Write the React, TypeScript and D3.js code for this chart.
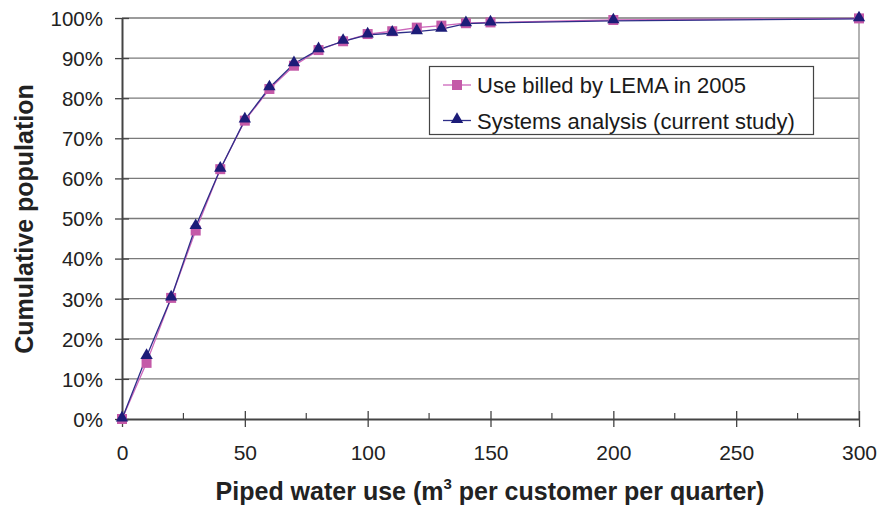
import React, { useEffect, useRef } from "react";
import * as d3 from "d3";

const usage = [0, 10, 20, 30, 40, 50, 60, 70, 80, 90, 100, 110, 120, 130, 140, 150, 200, 300];
const billed = [0, 14, 30.2, 47, 62.3, 74.4, 82.3, 88.1, 92, 94.2, 96, 96.7, 97.6, 98.1, 98.7, 98.9, 99.5, 99.9];
const systems = [0, 15.6, 30.2, 48, 62.3, 74.6, 82.6, 88.6, 92.1, 94.2, 95.8, 96.2, 96.6, 97.2, 98.6, 98.8, 99.3, 99.8];
const xTicks = [0, 50, 100, 150, 200, 250, 300];
const xMinor = [25, 75, 125, 175, 225, 275];
const yTicks = [0, 10, 20, 30, 40, 50, 60, 70, 80, 90, 100];
const seriesNames = ["Use billed by LEMA in 2005", "Systems analysis (current study)"];

const W = 880;
const H = 508;
const left = 122;
const right = 859;
const top = 18;
const bottom = 419;
const font = "'Liberation Sans', Arial, sans-serif";
const pink = "#c45aa8";
const pinkLine = "#cc66bb";
const navy = "#1c1c78";
const navyLine = "#2e2e88";

const App: React.FC = () => {
    const svgRef = useRef<SVGSVGElement>(null);

    useEffect(() => {
        if (!svgRef.current) return;
        const svg = d3.select(svgRef.current);
        svg.selectAll("*").remove();

        const x = d3.scaleLinear().domain([0, 300]).range([left, right]);
        const y = d3.scaleLinear().domain([0, 100]).range([bottom, top]);

        // gridlines
        svg.append("g")
            .selectAll("line")
            .data(yTicks.filter((d) => d > 0))
            .join("line")
            .attr("x1", left)
            .attr("x2", right)
            .attr("y1", (d) => y(d))
            .attr("y2", (d) => y(d))
            .attr("stroke", "#7a7a7a")
            .attr("stroke-width", 1.3);

        // right border
        svg.append("line")
            .attr("x1", right).attr("x2", right)
            .attr("y1", top).attr("y2", bottom)
            .attr("stroke", "#8a8a8a").attr("stroke-width", 1.3);

        // y axis
        const yAxis = svg.append("g")
            .attr("transform", `translate(${left},0)`)
            .call(d3.axisLeft(y).tickValues(yTicks).tickFormat((d) => `${d}%`).tickSizeInner(7).tickSizeOuter(0));
        yAxis.select(".domain").attr("stroke", "#444").attr("stroke-width", 2);
        yAxis.selectAll(".tick line").attr("stroke", "#444").attr("stroke-width", 1.3).attr("x2", 7).attr("x1", -7);
        yAxis.selectAll(".tick text")
            .attr("font-family", font).attr("font-size", 20.5).attr("fill", "#222")
            .attr("x", -19).attr("dy", "0.36em");

        // x axis
        const xAxis = svg.append("g")
            .attr("transform", `translate(0,${bottom})`)
            .call(d3.axisBottom(x).tickValues(xTicks).tickFormat((d) => `${d}`).tickSizeInner(8).tickSizeOuter(0));
        xAxis.select(".domain").attr("stroke", "#444").attr("stroke-width", 2);
        xAxis.selectAll(".tick line").attr("stroke", "#444").attr("stroke-width", 1.3).attr("y1", -8).attr("y2", 8);
        xAxis.selectAll(".tick text")
            .attr("font-family", font).attr("font-size", 21).attr("fill", "#222")
            .attr("y", 41)
            .attr("dy", 0);

        svg.append("g")
            .selectAll("line")
            .data(xMinor)
            .join("line")
            .attr("x1", (d) => x(d)).attr("x2", (d) => x(d))
            .attr("y1", bottom - 6).attr("y2", bottom)
            .attr("stroke", "#444").attr("stroke-width", 1.2);

        const lineGen = (vals: number[]) =>
            d3.line<number>().x((_, i) => x(usage[i])).y((d) => y(d))(vals) || "";

        svg.append("path").attr("d", lineGen(billed)).attr("fill", "none").attr("stroke", pinkLine).attr("stroke-width", 1.3);
        svg.append("path").attr("d", lineGen(systems)).attr("fill", "none").attr("stroke", navyLine).attr("stroke-width", 1.3);

        const sq = 10;
        svg.append("g")
            .selectAll("rect")
            .data(billed)
            .join("rect")
            .attr("x", (_, i) => x(usage[i]) - sq / 2)
            .attr("y", (d) => y(d) - sq / 2)
            .attr("width", sq).attr("height", sq)
            .attr("fill", pink);

        const tri = d3.symbol().type(d3.symbolTriangle).size(66);
        svg.append("g")
            .selectAll("path")
            .data(systems)
            .join("path")
            .attr("d", tri)
            .attr("transform", (d, i) => `translate(${x(usage[i])},${y(d) - 1})`)
            .attr("fill", navy);

        // legend
        const lg = svg.append("g");
        lg.append("rect")
            .attr("x", 429.5).attr("y", 66.5).attr("width", 384).attr("height", 68)
            .attr("fill", "#fff").attr("stroke", "#444").attr("stroke-width", 1.2);
        const rows = [
            { name: seriesNames[0], color: pinkLine, mark: "sq" },
            { name: seriesNames[1], color: navyLine, mark: "tri" },
        ];
        rows.forEach((r, i) => {
            const cy = 85 + i * 35.5;
            lg.append("line").attr("x1", 443).attr("x2", 471).attr("y1", cy).attr("y2", cy)
                .attr("stroke", r.color).attr("stroke-width", 1.3);
            if (r.mark === "sq") {
                lg.append("rect").attr("x", 457 - 5).attr("y", cy - 5).attr("width", 10).attr("height", 10).attr("fill", pink);
            } else {
                lg.append("path").attr("d", tri).attr("transform", `translate(457,${cy - 1})`).attr("fill", navy);
            }
            lg.append("text").attr("x", 477).attr("y", cy + 8).attr("font-family", font).attr("font-size", 22)
                .attr("fill", "#1a1a1a").text(r.name);
        });

        // axis titles
        const xt = svg.append("text")
            .attr("transform", `translate(490,500)`)
            .attr("text-anchor", "middle")
            .attr("font-family", font).attr("font-size", 25).attr("font-weight", "bold").attr("fill", "#222");
        xt.append("tspan").text("Piped water use (m");
        xt.append("tspan").attr("font-size", 15).attr("dy", -11).text("3");
        xt.append("tspan").attr("dy", 11).text(" per customer per quarter)");

        svg.append("text")
            .attr("transform", `translate(33,219) rotate(-90)`)
            .attr("text-anchor", "middle")
            .attr("font-family", font).attr("font-size", 25).attr("font-weight", "bold").attr("fill", "#222")
            .text("Cumulative population");
    }, []);

    return (
        <svg ref={svgRef} width={W} height={H} style={{ position: "absolute", left: 0, top: 0, background: "#fff" }} />
    );
};

export default App;
